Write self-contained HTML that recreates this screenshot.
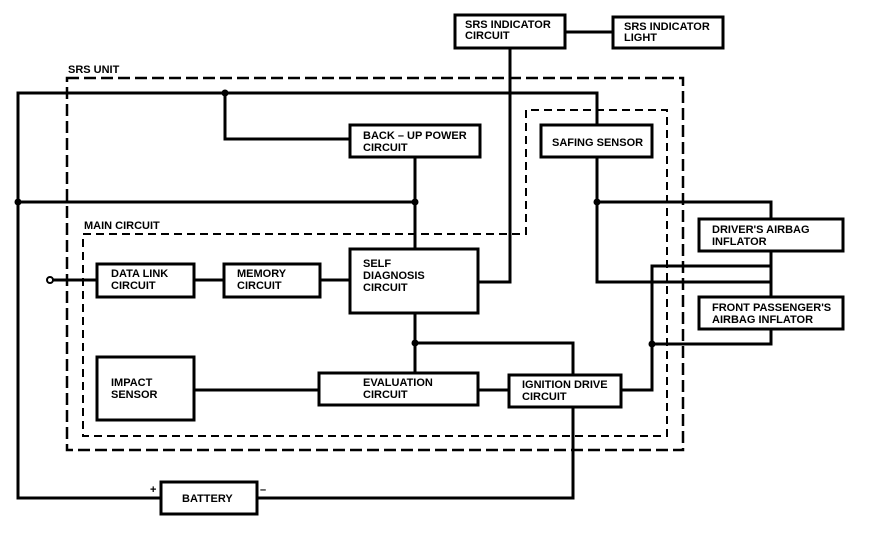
<!DOCTYPE html>
<html><head><meta charset="utf-8"><style>
body{margin:0;background:#fff}
svg text{font-family:"Liberation Sans",sans-serif;font-weight:bold;font-size:11px;fill:#000}
</style></head><body>
<svg width="896" height="528" viewBox="0 0 896 528" xmlns="http://www.w3.org/2000/svg">
<g fill="none" stroke="#000" stroke-width="3">
<!-- outer power loop -->
<polyline points="597,125 597,93 18,93 18,498 161,498"/>
<polyline points="225,93 225,139 350,139"/>
<polyline points="18,202 415,202"/>
<polyline points="415,157 415,249"/>
<polyline points="257,498 573,498 573,407"/>
<!-- SRS indicator -->
<line x1="565" y1="32" x2="613" y2="32"/>
<polyline points="510,48 510,282 478,282"/>
<!-- safing -->
<polyline points="597,157 597,282 771,282 771,251"/>
<polyline points="597,202 771,202 771,219"/>
<!-- passenger -->
<polyline points="621,390 652,390 652,266 771,266 771,297"/>
<polyline points="652,344 771,344 771,329"/>
<!-- main -->
<line x1="53" y1="280" x2="97" y2="280"/>
<line x1="194" y1="280" x2="224" y2="280"/>
<line x1="320" y1="280" x2="350" y2="280"/>
<line x1="415" y1="313" x2="415" y2="373"/>
<polyline points="415,343 573,343 573,375"/>
<line x1="194" y1="390" x2="319" y2="390"/>
<line x1="478" y1="390" x2="509" y2="390"/>
<!-- boxes -->
<rect x="455" y="15" width="110" height="33"/>
<rect x="613" y="17" width="110" height="31"/>
<rect x="350" y="125" width="130" height="32"/>
<rect x="541" y="125" width="111" height="32"/>
<rect x="699" y="219" width="144" height="32"/>
<rect x="699" y="297" width="144" height="32"/>
<rect x="97" y="264" width="97" height="33"/>
<rect x="224" y="264" width="96" height="33"/>
<rect x="350" y="249" width="128" height="64"/>
<rect x="97" y="357" width="97" height="63"/>
<rect x="319" y="373" width="159" height="32"/>
<rect x="509" y="375" width="112" height="32"/>
<rect x="161" y="482" width="96" height="32"/>
</g>
<g fill="none" stroke="#000" stroke-width="2.5" stroke-dasharray="12,5">
<polygon points="67,78 683,78 683,450 67,450"/>
</g>
<g fill="none" stroke="#000" stroke-width="2" stroke-dasharray="8,5">
<polygon points="83,234 526,234 526,110 667,110 667,436 83,436"/>
</g>
<g fill="#000">
<circle cx="225" cy="93" r="3.5"/><circle cx="18" cy="202" r="3.5"/><circle cx="415" cy="202" r="3.5"/>
<circle cx="597" cy="202" r="3.5"/><circle cx="415" cy="343" r="3.5"/><circle cx="652" cy="344" r="3.5"/>
</g>
<circle cx="50" cy="280" r="3" fill="#fff" stroke="#000" stroke-width="2"/>
<text x="68" y="73">SRS UNIT</text>
<text x="84" y="229">MAIN CIRCUIT</text>
<text x="465" y="28">SRS INDICATOR</text><text x="465" y="39">CIRCUIT</text>
<text x="624" y="30">SRS INDICATOR</text><text x="624" y="41">LIGHT</text>
<text x="363" y="139">BACK – UP POWER</text><text x="363" y="151">CIRCUIT</text>
<text x="552" y="146">SAFING SENSOR</text>
<text x="712" y="233">DRIVER'S AIRBAG</text><text x="712" y="245">INFLATOR</text>
<text x="712" y="311">FRONT PASSENGER'S</text><text x="712" y="323">AIRBAG INFLATOR</text>
<text x="111" y="277">DATA LINK</text><text x="111" y="289">CIRCUIT</text>
<text x="237" y="277">MEMORY</text><text x="237" y="289">CIRCUIT</text>
<text x="363" y="267">SELF</text><text x="363" y="279">DIAGNOSIS</text><text x="363" y="291">CIRCUIT</text>
<text x="111" y="386">IMPACT</text><text x="111" y="398">SENSOR</text>
<text x="363" y="386">EVALUATION</text><text x="363" y="398">CIRCUIT</text>
<text x="522" y="388">IGNITION DRIVE</text><text x="522" y="400">CIRCUIT</text>
<text x="182" y="502">BATTERY</text>
<text x="150" y="493">+</text><text x="260" y="493">–</text>
</svg>
</body></html>
